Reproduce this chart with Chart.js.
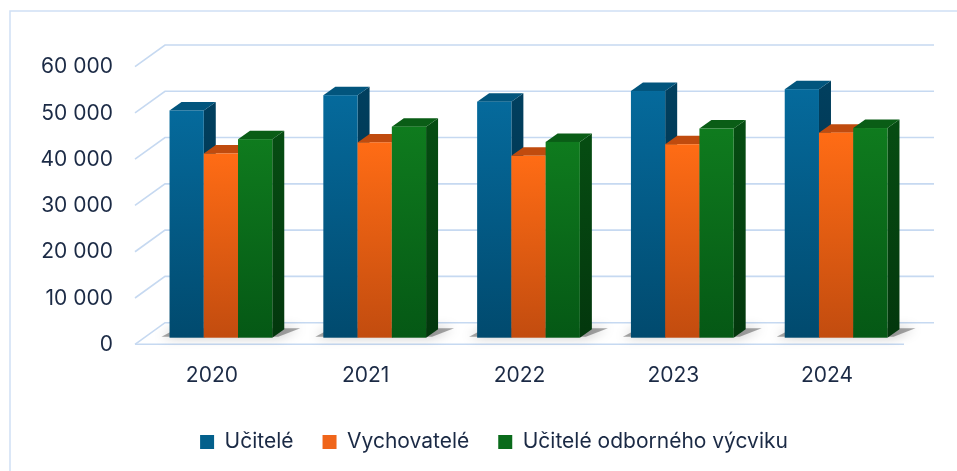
<!DOCTYPE html>
<html>
<head>
<meta charset="utf-8">
<script src="https://cdn.jsdelivr.net/npm/chart.js@4.4.1/dist/chart.umd.min.js"></script>
<style>
  html, body { margin: 0; padding: 0; background: #ffffff; }
  #wrap { width: 957px; height: 471px; position: relative; }
</style>
</head>
<body>
<div id="wrap"><canvas id="c" width="957" height="471"></canvas></div>
<script>
const categories = ['2020', '2021', '2022', '2023', '2024'];
const ucitele = [49100, 52400, 51000, 53300, 53700];
const vychovatele = [39800, 42200, 39300, 41800, 44300];
const uciteleOdbornehoVycviku = [42900, 45600, 42300, 45200, 45300];
const seriesNames = ['Učitelé', 'Vychovatelé', 'Učitelé odborného výcviku'];
const yTickValues = [0, 10000, 20000, 30000, 40000, 50000, 60000];

const faceColors = [
  { front: ['#056a9c', '#014a6e'], top: '#02557d', side: ['#013f5e', '#012f47'], legend: '#03608c' },
  { front: ['#ff6c15', '#c24c0f'], top: '#c04b0e', side: ['#a8410c', '#8a350a'], legend: '#f0651a' },
  { front: ['#0f7b1e', '#055815'], top: '#0a5d16', side: ['#064c12', '#03370d'], legend: '#0a6b1b' }
];

const BACK = { dx: 21, dy: -15 };
const FRONT = { dx: -9, dy: 6.6 };
const BAR_D = { dx: 12, dy: 8.5 };
const GRID = '#c6d9f1';

function fmt(v) { return String(v).replace(/\B(?=(\d{3})+(?!\d))/g, ' '); }

const depth3d = {
  id: 'depth3d',
  beforeDraw(chart) {
    const ctx = chart.ctx;
    ctx.save();
    ctx.fillStyle = '#ffffff';
    ctx.fillRect(0, 0, chart.width, chart.height);
    ctx.strokeStyle = '#cfe0f5';
    ctx.lineWidth = 1.5;
    ctx.strokeRect(10, 11, chart.width + 20, chart.height + 20);
    ctx.restore();
  },
  beforeDatasetsDraw(chart) {
    const ctx = chart.ctx;
    const y = chart.scales.y;
    const a = chart.chartArea;
    ctx.save();
    ctx.strokeStyle = GRID;
    ctx.lineWidth = 1.6;
    yTickValues.forEach(v => {
      const py = y.getPixelForValue(v);
      ctx.beginPath();
      ctx.moveTo(a.left + FRONT.dx, py + FRONT.dy);
      ctx.lineTo(a.left + BACK.dx, py + BACK.dy);
      ctx.lineTo(a.right + BACK.dx, py + BACK.dy);
      ctx.stroke();
    });
    const p0 = y.getPixelForValue(0);
    ctx.beginPath();
    ctx.moveTo(a.left + FRONT.dx, p0 + FRONT.dy);
    ctx.lineTo(a.right + FRONT.dx, p0 + FRONT.dy);
    ctx.stroke();
    const metas = chart.data.datasets.map((d, i) => chart.getDatasetMeta(i));
    categories.forEach((c, i) => {
      const first = metas[0].data[i], last = metas[metas.length - 1].data[i];
      const L = first.x - first.width / 2, R = last.x + last.width / 2, b = first.base;
      ctx.save();
      ctx.shadowColor = 'rgba(0,0,0,0.6)';
      ctx.shadowBlur = 12;
      ctx.fillStyle = 'rgba(60,60,60,0.45)';
      ctx.beginPath();
      ctx.moveTo(L - 8, b - 1);
      ctx.lineTo(R + 6, b - 1);
      ctx.lineTo(R + BAR_D.dx + 16, b - BAR_D.dy - 1);
      ctx.lineTo(L + BAR_D.dx - 4, b - BAR_D.dy - 1);
      ctx.closePath();
      ctx.fill();
      ctx.restore();
    });
    ctx.restore();
  },
  beforeDatasetDraw() { return false; },
  afterDatasetsDraw(chart) {
    const ctx = chart.ctx;
    const metas = chart.data.datasets.map((d, i) => chart.getDatasetMeta(i));
    categories.forEach((c, i) => {
      metas.forEach((meta, d) => {
        const el = meta.data[i];
        const L = el.x - el.width / 2, R = el.x + el.width / 2;
        const top = el.y, b = el.base;
        const col = faceColors[d];
        ctx.save();
        let g = ctx.createLinearGradient(0, top, 0, b);
        g.addColorStop(0, col.side[0]); g.addColorStop(1, col.side[1]);
        ctx.fillStyle = g;
        ctx.beginPath();
        ctx.moveTo(R, top);
        ctx.lineTo(R + BAR_D.dx, top - BAR_D.dy);
        ctx.lineTo(R + BAR_D.dx, b - BAR_D.dy);
        ctx.lineTo(R, b);
        ctx.closePath();
        ctx.fill();
        ctx.fillStyle = col.top;
        ctx.beginPath();
        ctx.moveTo(L, top);
        ctx.lineTo(R, top);
        ctx.lineTo(R + BAR_D.dx, top - BAR_D.dy);
        ctx.lineTo(L + BAR_D.dx, top - BAR_D.dy);
        ctx.closePath();
        ctx.fill();
        g = ctx.createLinearGradient(0, top, 0, b);
        g.addColorStop(0, col.front[0]); g.addColorStop(1, col.front[1]);
        ctx.fillStyle = g;
        ctx.fillRect(L, top, R - L, b - top);
        ctx.restore();
      });
    });
  }
};

Chart.defaults.font.family = 'Inter, "Noto Sans", sans-serif';
Chart.defaults.font.size = 21;
Chart.defaults.color = '#1b2a45';

const seriesData = [ucitele, vychovatele, uciteleOdbornehoVycviku];

new Chart(document.getElementById('c'), {
  type: 'bar',
  data: {
    labels: categories,
    datasets: seriesData.map((vals, d) => ({
      label: seriesNames[d],
      data: vals,
      backgroundColor: faceColors[d].legend,
      borderWidth: 0,
      barPercentage: 1.0,
      categoryPercentage: 0.668
    }))
  },
  options: {
    responsive: false,
    animation: false,
    devicePixelRatio: 1,
    layout: { padding: { left: 31, right: 0, top: 60, bottom: 8.5 } },
    plugins: {
      legend: {
        position: 'bottom',
        labels: {
          boxWidth: 14, boxHeight: 14, padding: 29,
          font: { size: 21 }, color: '#1b2a45'
        }
      },
      tooltip: { enabled: false }
    },
    scales: {
      x: {
        grid: { display: false, drawTicks: false },
        border: { display: false },
        ticks: { padding: 25, labelOffset: -9, font: { size: 21 }, color: '#1b2a45' },
        afterFit(s) { s.height = 64.8; }
      },
      y: {
        min: 0, max: 60000,
        grid: { display: false, drawTicks: false },
        border: { display: false },
        ticks: {
          stepSize: 10000, padding: 31, labelOffset: 7,
          font: { size: 21 }, color: '#1b2a45',
          callback: v => fmt(v)
        },
        afterFit(s) { s.width = 113; }
      },
      yRight: {
        position: 'right',
        min: 0, max: 1,
        grid: { display: false, drawTicks: false },
        border: { display: false },
        ticks: { display: false },
        afterFit(s) { s.width = 44; }
      }
    }
  },
  plugins: [depth3d]
});
</script>
</body>
</html>
